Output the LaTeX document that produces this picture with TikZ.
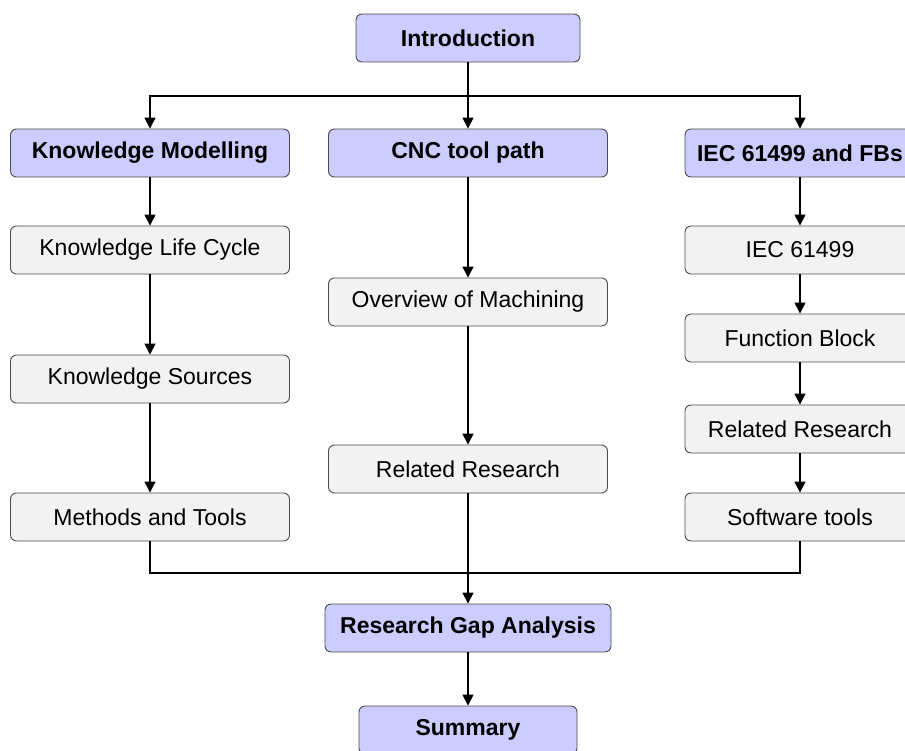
\documentclass[tikz,border=0pt]{standalone}
\usepackage{fontspec}
\setmainfont{Liberation Sans}
\usetikzlibrary{positioning, arrows.meta}

\tikzset{
  topic/.style={draw=black!70, fill=blue!20, rounded corners=6pt, line width=0.9pt,
    minimum height=48pt, inner sep=0pt, font=\fontsize{23}{27}\selectfont\bfseries},
  subtopic/.style={draw=black!70, fill=black!5, rounded corners=6pt, line width=0.9pt,
    minimum height=48pt, inner sep=0pt, font=\fontsize{23}{27}\selectfont},
  flow/.style={line width=1.5pt, -{Triangle[width=11pt,length=11pt]}},
  link/.style={line width=1.5pt}
}

\begin{document}
\begin{tikzpicture}[x=1pt, y=-1pt, on grid]
  \useasboundingbox (0,0) rectangle (905,751);
  \node[topic, minimum width=224pt] (intro) at (468,38) {Introduction};
  \node[topic, minimum width=279pt] (cnc) [below=115pt of intro] {CNC tool path};
  \node[topic, minimum width=279pt] (km) [left=318pt of cnc] {Knowledge Modelling};
  \node[topic, minimum width=230pt] (iec) [right=332pt of cnc] {IEC 61499 and FBs};
  \coordinate[below=58pt of intro] (split);

  \begin{scope}[every node/.append style={minimum width=279pt}]
  \node[subtopic] (klc) [below=97pt of km] {Knowledge Life Cycle};
  \node[subtopic] (ks) [below=129pt of klc] {Knowledge Sources};
  \node[subtopic] (mt) [below=138pt of ks] {Methods and Tools};
  \node[subtopic] (om) [below=149pt of cnc] {Overview of Machining};
  \node[subtopic] (rr1) [below=167pt of om] {Related Research};
  \end{scope}

  \begin{scope}[every node/.append style={minimum width=230pt}]
  \node[subtopic] (iec1) [below=97pt of iec] {IEC 61499};
  \node[subtopic] (fb) [below=88pt of iec1] {Function Block};
  \node[subtopic] (rr2) [below=91pt of fb] {Related Research};
  \node[subtopic] (sw) [below=88pt of rr2] {Software tools};
  \end{scope}

  \coordinate[below=104pt of rr1] (join);
  \node[topic, minimum width=286pt] (rga) [below=159pt of rr1] {Research Gap Analysis};
  \node[topic, minimum width=218pt] (sum) [below=102pt of rga] {Summary};

  \draw[flow] (intro) -- (cnc);
  \draw[flow] (split) -| (km);
  \draw[flow] (split) -| (iec);
  \path[flow]
  (km) edge (klc)
  (klc) edge (ks)
  (ks) edge (mt)
  (cnc) edge (om)
  (om) edge (rr1)
  (iec) edge (iec1)
  (iec1) edge (fb)
  (fb) edge (rr2)
  (rr2) edge (sw)
  (rr1) edge (rga)
  (rga) edge (sum)
  ;
  \draw[link] (mt) |- (join);
  \draw[link] (sw) |- (join);
\end{tikzpicture}
\end{document}
